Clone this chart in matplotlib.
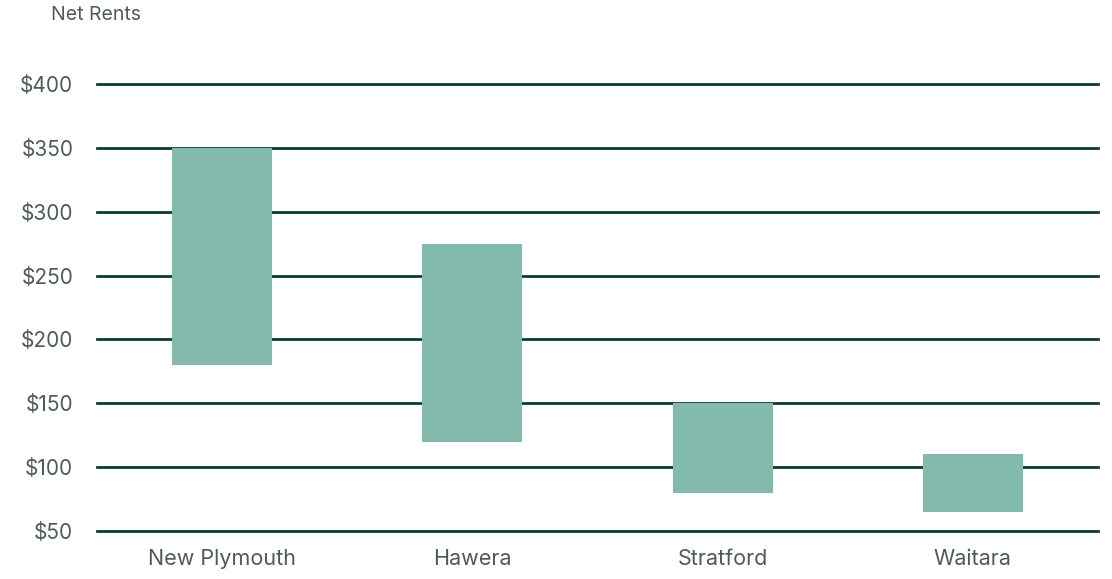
import matplotlib.pyplot as plt

towns = ["New Plymouth", "Hawera", "Stratford", "Waitara"]
low = [180, 120, 80, 65]
high = [350, 275, 150, 110]
yticks = [50, 100, 150, 200, 250, 300, 350, 400]

plt.rcParams['font.family'] = ['Inter', 'DejaVu Sans']
txt = '#4f5a5a'

fig = plt.figure(figsize=(11.12, 5.79), dpi=100)
ax = fig.add_axes([0.0872, 0.0829, 0.9002, 0.772])

for y in yticks:
    ax.axhline(y, color='#0b3d2d', lw=2, zorder=1, clip_on=False)

x = range(len(towns))
ax.bar(x, [h - l for h, l in zip(high, low)], bottom=low, width=0.4,
       color='#82bbad', zorder=2)

ax.set_xlim(-0.5, 3.5)
ax.set_ylim(50, 400)
ax.set_yticks(yticks)
ax.set_yticklabels(["$%d" % v for v in yticks])
ax.set_xticks(list(x))
ax.set_xticklabels(towns)
ax.tick_params(axis='y', length=0, pad=17, labelsize=15, labelcolor=txt)
ax.tick_params(axis='x', length=0, pad=13, labelsize=15.5, labelcolor=txt)
for s in ax.spines.values():
    s.set_visible(False)

fig.text(51 / 1112, 1 - 15 / 579, "Net Rents", fontsize=14, color=txt,
         ha='left', va='center')

fig.savefig("out.png", dpi=100)
